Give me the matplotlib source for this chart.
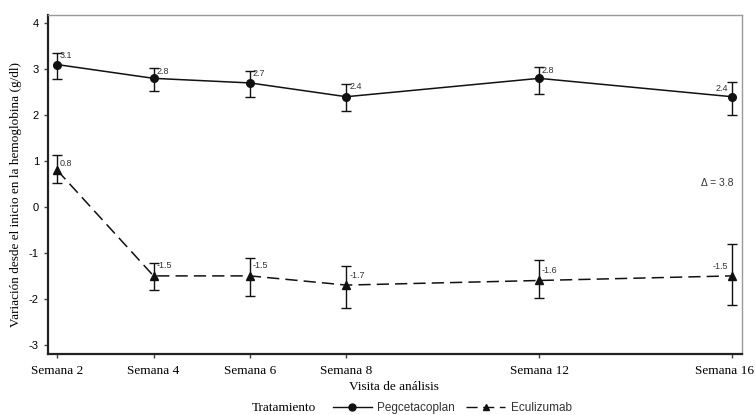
import matplotlib
matplotlib.use("Agg")
import matplotlib.pyplot as plt
import matplotlib.transforms as mtransforms
from matplotlib.lines import Line2D

weeks = [2, 4, 6, 8, 12, 16]
week_labels = ["Semana 2", "Semana 4", "Semana 6", "Semana 8", "Semana 12", "Semana 16"]

peg_mean = [3.1, 2.8, 2.7, 2.4, 2.8, 2.4]
peg_low = [2.78, 2.53, 2.39, 2.08, 2.47, 2.00]
peg_high = [3.36, 3.02, 2.97, 2.68, 3.04, 2.72]

ecu_mean = [0.8, -1.5, -1.5, -1.7, -1.6, -1.5]
ecu_low = [0.52, -1.81, -1.93, -2.19, -1.99, -2.14]
ecu_high = [1.13, -1.21, -1.11, -1.29, -1.16, -0.80]

yticks = [-3, -2, -1, 0, 1, 2, 3, 4]
delta_text = "\u0394 = 3.8"

serif = "Liberation Serif"
sans = "Liberation Sans"
lab_col = "#333333"

fig = plt.figure(figsize=(7.56, 4.15), dpi=100)
ax = fig.add_axes([0.0635, 0.147, 0.918, 0.817])

def errs(m, lo, hi):
    return [[a - b for a, b in zip(m, lo)], [c - a for a, c in zip(m, hi)]]

ax.errorbar(weeks, peg_mean, yerr=errs(peg_mean, peg_low, peg_high), color="#111111",
            lw=1.1, marker="o", ms=5.5, capsize=3.5, elinewidth=1.0, capthick=1.0, ls="-")
ax.errorbar(weeks, ecu_mean, yerr=errs(ecu_mean, ecu_low, ecu_high), color="#111111",
            lw=1.1, marker="^", ms=5.5, capsize=3.5, elinewidth=1.0, capthick=1.0,
            ls=(0, (8, 4)))

for i, (w, m, hi) in enumerate(zip(weeks, peg_mean, peg_high)):
    if i == len(weeks) - 1:
        ax.annotate(f"{m:.1f}", (w, m), xytext=(-3, 2.5), textcoords="offset points",
                    ha="right", va="bottom", fontsize=6.5, family=sans, color=lab_col)
    else:
        ax.annotate(f"{m:.1f}", (w, hi), xytext=(2, -5.5), textcoords="offset points",
                    ha="left", va="bottom", fontsize=6.5, family=sans, color=lab_col)
for i, (w, m, hi) in enumerate(zip(weeks, ecu_mean, ecu_high)):
    if i == len(weeks) - 1:
        ax.annotate(f"{m:.1f}", (w, m), xytext=(-3, 3.5), textcoords="offset points",
                    ha="right", va="bottom", fontsize=6.5, family=sans, color=lab_col)
    elif i == 0:
        ax.annotate(f"{m:.1f}", (w, hi), xytext=(2, -9), textcoords="offset points",
                    ha="left", va="bottom", fontsize=6.5, family=sans, color=lab_col)
    else:
        ax.annotate(f"{m:.1f}", (w, m), xytext=(2, 4), textcoords="offset points",
                    ha="left", va="bottom", fontsize=6.5, family=sans, color=lab_col)

ax.text(16.03, 0.52, delta_text, ha="right", va="center", fontsize=7.5, family=sans, color=lab_col)

ax.set_xlim(1.81, 16.21)
ax.set_ylim(-3.2, 4.18)
ax.set_xticks(weeks)
ax.set_xticklabels(week_labels, family=serif, fontsize=9.5)
ax.set_yticks(yticks)
ax.set_yticklabels([str(t) for t in yticks], family=sans, fontsize=8)
ax.tick_params(axis="both", direction="out", length=3, width=1, color="#444444")
ax.tick_params(axis="x", pad=5)

# shift the last tick label left so it stays inside the figure, as in the reference
last = ax.get_xticklabels()[-1]
last.set_transform(last.get_transform() + mtransforms.ScaledTranslation(-7 / 100, 0, fig.dpi_scale_trans))

for s in ["left", "bottom"]:
    ax.spines[s].set_linewidth(1.6)
    ax.spines[s].set_color("#222222")
for s in ["top", "right"]:
    ax.spines[s].set_linewidth(1.0)
    ax.spines[s].set_color("#999999")

ax.set_ylabel("Variación desde el inicio en la hemoglobina (g/dl)", family=serif, fontsize=9.5)
ax.yaxis.set_label_coords(-0.037, 0.47)
fig.text(0.521, 0.0675, "Visita de análisis", ha="center", va="center", family=serif, fontsize=9.5)

fig.text(0.333, 0.0169, "Tratamiento", ha="left", va="center", family=serif, fontsize=9.5)
handles = [Line2D([], [], color="#111111", lw=1.0, marker="o", ms=5),
           Line2D([], [], color="#111111", lw=1.0, marker="^", ms=5, ls=(0, (8, 4)))]
leg = fig.legend(handles, ["Pegcetacoplan", "Eculizumab"], loc="center left",
                 bbox_to_anchor=(0.44, 0.0169), ncol=2, frameon=False,
                 prop={"family": sans, "size": 8.5}, handlelength=3.3, columnspacing=1.0,
                 handletextpad=0.45, borderpad=0, borderaxespad=0)
for t in leg.get_texts():
    t.set_color(lab_col)

fig.savefig("out.png", dpi=100)
